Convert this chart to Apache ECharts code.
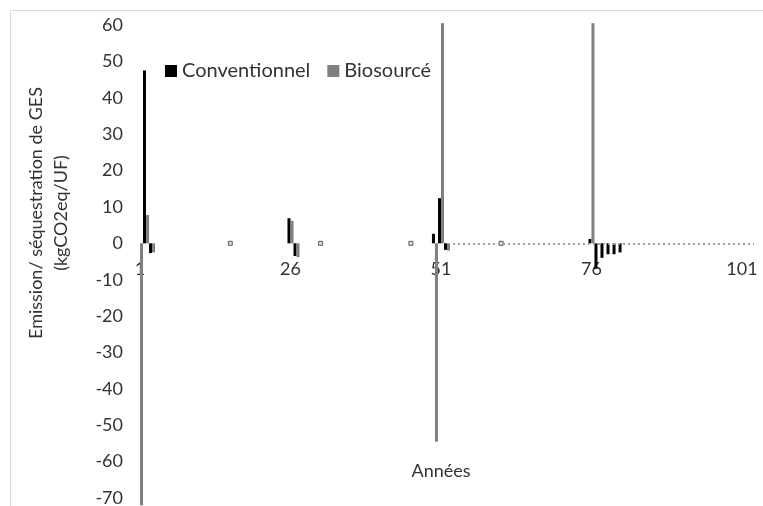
<!DOCTYPE html>
<html>
<head>
<meta charset="utf-8">
<script src="https://cdn.jsdelivr.net/npm/echarts@6/dist/echarts.min.js"></script>
<style>
  html, body { margin: 0; padding: 0; background: #fff; }
  #chart { width: 763px; height: 506px; }
</style>
</head>
<body>
<div id="chart"></div>
<script>
// Years on the horizontal axis (1 .. 103)
const years = Array.from({ length: 103 }, (_, i) => String(i + 1));

// Years with a non-zero flow, and the flow of each system (kgCO2eq/UF)
const eventYears    = [1, 2, 3, 26, 27, 50, 51, 52, 76, 77, 78, 79, 80, 81];
const conventionnel = [0, 47.5, -2.7, 6.9, -3.5, 2.6, 12.4, -1.8, 1.2, -7, -4, -3, -3, -2.5];
const biosource     = [-72, 7.8, -2.5, 6.2, -3.8, -54.5, 60.5, -2, 60.5, 0, 0, 0, 0, 0];

// Small maintenance points on the zero line
const maintenanceYears  = [16, 31, 46, 61];
const maintenanceValues = [0, 0, 0, 0];

// Dotted zero line for the end-of-life period
const baselineFrom = '53';
const baselineTo = '103';

// Value-axis range
const Y_MIN = -70, Y_MAX = 60, Y_STEP = 10;

function perYear(values) {
  const out = years.map(() => null);
  eventYears.forEach((y, i) => { out[y - 1] = values[i]; });
  return out;
}

const FONT = 'Lato';
const TEXT = '#333333';
const GRID = { left: 137, right: 6, top: 25, bottom: 8 };
const CHART_H = 506;

// Lift the category axis from the bottom edge of the grid up to the zero line
const plotH = CHART_H - GRID.top - GRID.bottom;
const zeroFromBottom = plotH * (0 - Y_MIN) / (Y_MAX - Y_MIN);

const chart = echarts.init(document.getElementById('chart'), null, { renderer: 'canvas' });

chart.setOption({
  animation: false,
  backgroundColor: '#ffffff',
  textStyle: { fontFamily: FONT },
  grid: Object.assign({ containLabel: false, outerBoundsMode: 'none' }, GRID),
  legend: {
    data: ['Conventionnel', 'Biosourcé'],
    left: 160,
    top: 56,
    icon: 'rect',
    itemWidth: 12,
    itemHeight: 12,
    itemGap: 17,
    textStyle: { fontFamily: FONT, fontSize: 20, color: TEXT }
  },
  xAxis: {
    type: 'category',
    data: years,
    position: 'bottom',
    offset: -zeroFromBottom,
    axisLine: { show: false, onZero: false },
    axisTick: { show: false },
    axisLabel: {
      interval: 24,
      margin: 17,
      fontFamily: FONT,
      fontSize: 18,
      color: TEXT
    },
    splitLine: { show: false }
  },
  yAxis: {
    type: 'value',
    min: Y_MIN,
    max: Y_MAX,
    interval: Y_STEP,
    axisLine: { show: false },
    axisTick: { show: false },
    splitLine: { show: false },
    axisLabel: { margin: 14, fontFamily: FONT, fontSize: 18, color: TEXT }
  },
  series: [
    {
      name: 'Conventionnel',
      type: 'bar',
      data: perYear(conventionnel),
      barGap: '0%',
      barCategoryGap: '0%',
      clip: false,
      itemStyle: { color: '#000000' }
    },
    {
      name: 'Biosourcé',
      type: 'bar',
      data: perYear(biosource),
      barGap: '0%',
      barCategoryGap: '0%',
      clip: false,
      itemStyle: { color: '#808080' }
    },
    {
      name: 'Entretien',
      type: 'scatter',
      data: maintenanceYears.map((y, i) => [String(y), maintenanceValues[i]]),
      symbol: 'rect',
      symbolSize: 4,
      itemStyle: { color: '#d0d0d0', borderColor: '#404040', borderWidth: 1 },
      markLine: {
        silent: true,
        symbol: 'none',
        label: { show: false },
        lineStyle: { color: '#a0a0a0', width: 2, type: [2, 3] },
        data: [[{ coord: [baselineFrom, 0] }, { coord: [baselineTo, 0] }]]
      }
    }
  ],
  graphic: [
    {
      type: 'rect',
      silent: true,
      shape: { x: 10.5, y: 10.5, width: 800, height: 600 },
      style: { fill: 'none', stroke: '#d9d9d9', lineWidth: 1 }
    },
    {
      type: 'text',
      x: 49,
      y: 213,
      rotation: Math.PI / 2,
      style: {
        text: 'Emission/ séquestration de GES\n(kgCO2eq/UF)',
        fontFamily: FONT,
        fontSize: 18,
        lineHeight: 25,
        fill: TEXT,
        align: 'center',
        verticalAlign: 'middle'
      }
    },
    {
      type: 'text',
      x: 441,
      y: 471,
      style: {
        text: 'Années',
        fontFamily: FONT,
        fontSize: 18,
        fill: TEXT,
        align: 'center',
        verticalAlign: 'middle'
      }
    }
  ]
});
</script>
</body>
</html>
